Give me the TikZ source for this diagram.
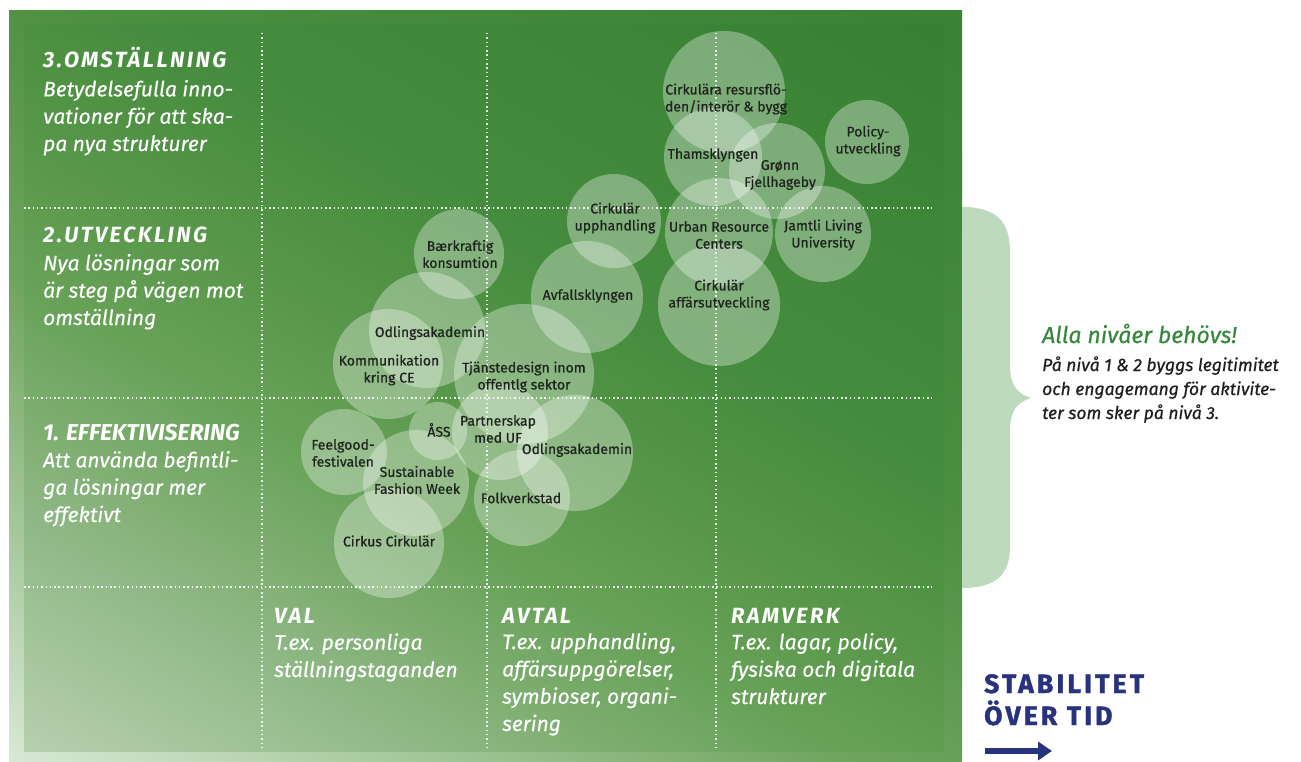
\documentclass[tikz,border=0pt]{standalone}
\usepackage{fontspec}
\setmainfont{Fira Sans}
\newfontfamily\headfont[LetterSpace=11]{Fira Sans}
\newfontfamily\stabfont[LetterSpace=12, FakeBold=1.5]{Fira Sans}
\newfontfamily\medfont[FakeBold=0.6]{Fira Sans}
\newfontfamily\bodyfont[FakeBold=0.35]{Fira Sans}
\usetikzlibrary{arrows.meta}
\definecolor{p0}{RGB}{182,207,174}
\definecolor{p1}{RGB}{145,185,135}
\definecolor{p2}{RGB}{104,162,88}
\definecolor{p3}{RGB}{86,150,72}
\definecolor{p4}{RGB}{70,140,62}
\definecolor{p5}{RGB}{55,128,50}
\definecolor{f0}{RGB}{215,232,212}
\definecolor{f1}{RGB}{165,200,155}
\definecolor{f2}{RGB}{112,165,95}
\definecolor{f3}{RGB}{92,153,78}
\definecolor{f4}{RGB}{74,142,64}
\definecolor{f5}{RGB}{58,130,52}
\definecolor{labc}{RGB}{30,35,30}
\definecolor{bracec}{RGB}{190,218,188}
\definecolor{allag}{RGB}{55,135,60}
\definecolor{navy}{RGB}{40,50,125}
\definecolor{bodyc}{RGB}{30,30,30}
\pgfdeclarehorizontalshading{panelshade}{100bp}{color(0bp)=(p0); color(16bp)=(p0); color(28bp)=(p1); color(41bp)=(p2); color(50bp)=(p3); color(59bp)=(p4); color(84bp)=(p5); color(100bp)=(p5)}
\pgfdeclarehorizontalshading{frameshade}{100bp}{color(0bp)=(f0); color(16bp)=(f0); color(28bp)=(f1); color(41bp)=(f2); color(50bp)=(f3); color(59bp)=(f4); color(84bp)=(f5); color(100bp)=(f5)}
\tikzset{
  grid/.style={white, opacity=0.85, line width=1.5pt, dash pattern=on 1.5pt off 2.8pt},
  bub/.style={circle, fill=white, fill opacity=0.33, draw=none, inner sep=0pt},
  lbl/.style={font=\medfont\fontsize{14}{17}\selectfont, text=labc, align=center, inner sep=0pt},
  head/.style={font=\headfont\fontsize{22}{26}\selectfont\bfseries\itshape, text=white, inner sep=0pt, anchor=base west},
  body/.style={font=\bodyfont\fontsize{21}{27.3}\selectfont\itshape, text=white, align=left, inner sep=0pt, anchor=base west},
}
\begin{document}
\begin{tikzpicture}[x=1pt,y=-1pt]
\useasboundingbox (0,0) rectangle (1301,762);
% panel
\shade[shading=frameshade, shading angle=60] (9,11) rectangle (962,762);
\shade[shading=panelshade, shading angle=60] (24,25) rectangle (944,751);
% grid
\foreach \x in {262,487,716} \draw[grid] (\x,33) -- (\x,749);
\foreach \y in {208,398,587} \draw[grid] (24,\y) -- (932,\y);
% bubbles
\node[bub, minimum size=122pt] (c1) at (724,92) {};
\node[bub, minimum size=98pt] (c2) at (713,157) {};
\node[bub, minimum size=96pt] (c3) at (777,171) {};
\node[bub, minimum size=84pt] (c4) at (867,142) {};
\node[bub, minimum size=94pt] (c5) at (614,221) {};
\node[bub, minimum size=108pt] (c6) at (719,232) {};
\node[bub, minimum size=96pt] (c7) at (823,234) {};
\node[bub, minimum size=122pt] (c8) at (719,305) {};
\node[bub, minimum size=112pt] (c9) at (587,297) {};
\node[bub, minimum size=90pt] (c10) at (459,254) {};
\node[bub, minimum size=116pt] (c11) at (427,330) {};
\node[bub, minimum size=110pt] (c12) at (388,364) {};
\node[bub, minimum size=140pt] (c13) at (524,374) {};
\node[bub, minimum size=96pt] (c14) at (500,432) {};
\node[bub, minimum size=58pt] (c15) at (438,431) {};
\node[bub, minimum size=116pt] (c16) at (575,453) {};
\node[bub, minimum size=86pt] (c17) at (344,452) {};
\node[bub, minimum size=106pt] (c18) at (416,483) {};
\node[bub, minimum size=110pt] (c19) at (389,543) {};
\node[bub, minimum size=96pt] (c20) at (522,498) {};
% bubble labels
\node[lbl] (t1) at (726,99) {Cirkulära resursflö-\\den/interör \& bygg};
\node[lbl] (t2) at (713,155) {Thamsklyngen};
\node[lbl] (t3) at (780,175) {Grønn\\Fjellhageby};
\node[lbl] (t4) at (868,141) {Policy-\\utveckling};
\node[lbl] (t5) at (615,218) {Cirkulär\\upphandling};
\node[lbl] (t6) at (719,235) {Urban Resource\\Centers};
\node[lbl] (t7) at (823,235) {Jamtli Living\\University};
\node[lbl] (t8) at (719,295) {Cirkulär\\affärsutveckling};
\node[lbl] (t9) at (588,296) {Avfallsklyngen};
\node[lbl] (t10) at (460,254) {Bærkraftig\\konsumtion};
\node[lbl] (t11) at (430,333) {Odlingsakademin};
\node[lbl] (t12) at (389,370) {Kommunikation\\kring CE};
\node[lbl] (t13) at (524,377) {Tjänstedesign inom\\offentlg sektor};
\node[lbl] (t15) at (439,430) {ÅSS};
\node[lbl] (t14) at (498,429) {Partnerskap\\med UF};
\node[lbl] (t16) at (577,450) {Odlingsakademin};
\node[lbl] (t17) at (343,453) {Feelgood-\\festivalen};
\node[lbl] (t18) at (417,480) {Sustainable\\Fashion Week};
\node[lbl] (t20) at (521,498) {Folkverkstad};
\node[lbl] (t19) at (389,541) {Cirkus Cirkulär};
% level texts (multi-line nodes are anchored at the last line's baseline)
\node[head] (h3) at (43,68) {3.OMSTÄLLNING};
\node[body] (b3) at (43,151) {Betydelsefulla inno-\\vationer för att ska-\\pa nya strukturer};
\node[head] (h2) at (43,243) {2.UTVECKLING};
\node[body] (b2) at (43,325) {Nya lösningar som\\är steg på vägen mot\\omställning};
\node[head, font=\fontsize{23}{26}\selectfont\bfseries\itshape] (h1) at (43,440) {1. EFFEKTIVISERING};
\node[body] (b1) at (43,522) {Att använda befintli-\\ga lösningar mer\\effektivt};
% column texts
\node[head] (hv) at (274,623) {VAL};
\node[body] (bv) at (274,677) {T.ex. personliga\\ställningstaganden};
\node[head] (ha) at (502,623) {AVTAL};
\node[body] (ba) at (502,731) {T.ex. upphandling,\\affärsuppgörelser,\\symbioser, organi-\\sering};
\node[head] (hr) at (731,623) {RAMVERK};
\node[body] (br) at (731,704) {T.ex. lagar, policy,\\fysiska och digitala\\strukturer};
% brace
\fill[bracec] (962,207) .. controls (997,207) and (1010,222) .. (1010,252) -- (1010,366) .. controls (1010,386) and (1018,394) .. (1031,398) .. controls (1018,402) and (1010,410) .. (1010,430) -- (1010,546) .. controls (1010,574) and (997,588) .. (962,588) -- cycle;
\node[anchor=base west, inner sep=0pt, font=\medfont\fontsize{23}{26}\selectfont\itshape, text=allag] (alla) at (1042,343) {Alla nivåer behövs!};
\node[anchor=base west, inner sep=0pt, align=left, font=\medfont\fontsize{17.5}{24}\selectfont\itshape, text=bodyc] (allab) at (1042,419) {På nivå 1 \& 2 byggs legitimitet\\och engagemang för aktivite-\\ter som sker på nivå 3.};
% stability
\node[anchor=base west, inner sep=0pt, align=left, font=\stabfont\fontsize{26.5}{32}\selectfont\bfseries, text=navy] (stab) at (984,725) {STABILITET\\ÖVER TID};
\coordinate (arrS) at (985,751);
\coordinate (arrE) at (1052,751);
\draw[navy, line width=6pt, -{Triangle[length=14pt,width=18pt]}] (arrS) -- (arrE);
\end{tikzpicture}
\end{document}
